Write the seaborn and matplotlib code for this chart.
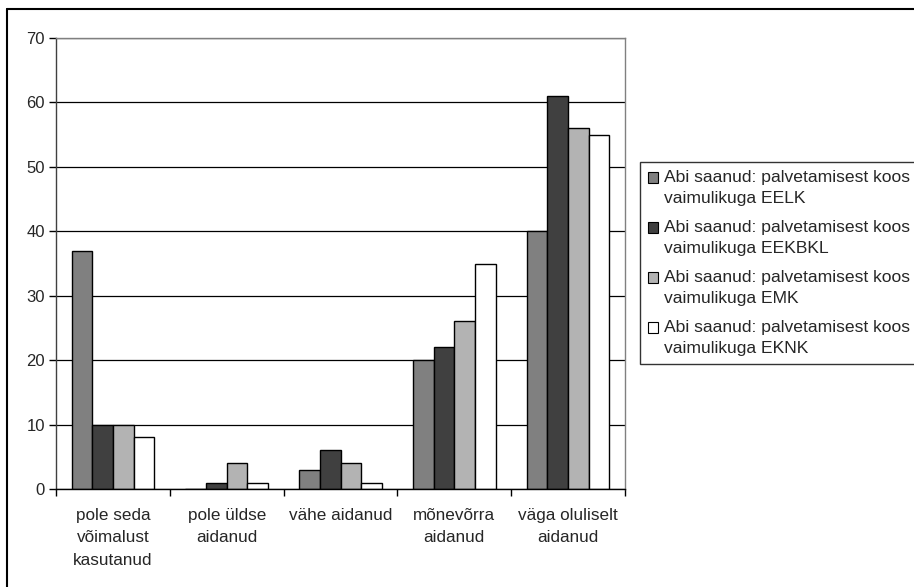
import numpy as np
import pandas as pd
import seaborn as sns
import matplotlib.pyplot as plt
from matplotlib.lines import Line2D
from matplotlib.patches import Rectangle
from matplotlib.legend_handler import HandlerPatch

# Andmed (loetud jooniselt)
kategooriad = ['pole seda\nvõimalust\nkasutanud', 'pole üldse\naidanud', 'vähe aidanud',
               'mõnevõrra\naidanud', 'väga oluliselt\naidanud']
grupid = ['Abi saanud: palvetamisest koos\nvaimulikuga EELK',
          'Abi saanud: palvetamisest koos\nvaimulikuga EEKBKL',
          'Abi saanud: palvetamisest koos\nvaimulikuga EMK',
          'Abi saanud: palvetamisest koos\nvaimulikuga EKNK']
eelk = [37, 0, 3, 20, 40]
eekbkl = [10, 1, 6, 22, 61]
emk = [10, 4, 4, 26, 56]
eknk = [8, 1, 1, 35, 55]
varvid = ['#808080', '#404040', '#b3b3b3', '#ffffff']

rows = []
for g, vals in zip(grupid, [eelk, eekbkl, emk, eknk]):
    for k, v in zip(kategooriad, vals):
        rows.append({'kategooria': k, 'grupp': g, 'vaartus': v})
df = pd.DataFrame(rows)

sns.set_style("white")
plt.rcParams['font.family'] = ['Liberation Sans', 'DejaVu Sans']

W, H = 914, 587
fig = plt.figure(figsize=(W / 100, H / 100), dpi=100)
ax = fig.add_axes([56 / W, 1 - 489 / H, (625 - 56) / W, (489 - 38) / H])

sns.barplot(data=df, x='kategooria', y='vaartus', hue='grupp', palette=varvid,
            width=4 / 5.5, edgecolor='black', linewidth=1, saturation=1, ax=ax)

handles, labels = ax.get_legend_handles_labels()
ax.get_legend().remove()

ax.set_ylim(0, 70)
ax.set_xlim(-0.5, 4.5)
ax.set_yticks(range(0, 71, 10))
ax.yaxis.grid(True, color='black', linewidth=0.9)
ax.set_axisbelow(True)
ax.set_xlabel('')
ax.set_ylabel('')

# kategooriate piirid on jaotised, nimed kirjutatakse eraldi
ax.set_xticks(np.arange(-0.5, 5, 1))
ax.set_xticklabels([''] * 6)
ax.tick_params(axis='x', direction='out', length=5, width=1, color='black', bottom=True)
ax.tick_params(axis='y', direction='out', length=5, width=1, color='black', left=True, labelsize=12, pad=3)
for i, k in enumerate(kategooriad):
    ax.annotate(k, xy=(i, 0), xycoords=('data', 'axes fraction'), xytext=(0, -13.5),
                textcoords='offset points', ha='center', va='top', fontsize=12.3,
                linespacing=1.62)

for s in ['top', 'right']:
    ax.spines[s].set_color('#808080')
    ax.spines[s].set_linewidth(1)
ax.spines['left'].set_color('#404040')
ax.spines['bottom'].set_color('black')
ax.spines['left'].set_linewidth(1)
ax.spines['bottom'].set_linewidth(1)


# legendi ruuduke esimese rea kõrgusel
def ruut(legend, orig_handle, xdescent, ydescent, width, height, fontsize):
    s = 0.6 * fontsize
    return Rectangle((-xdescent, height - s - 0.05 * fontsize), s, s)


leg = fig.legend(handles, labels, loc='upper left', bbox_to_anchor=(640 / W, 1 - 162 / H),
                 borderaxespad=0, fontsize=12.6, frameon=True, fancybox=False,
                 edgecolor='black', handlelength=0.6, handleheight=1.6,
                 handletextpad=0.3, labelspacing=0.8, borderpad=0.45,
                 handler_map={h: HandlerPatch(patch_func=ruut) for h in handles})
leg.get_frame().set_linewidth(1)
for t in leg.get_texts():
    t.set_linespacing(1.5)
for h in leg.legend_handles:
    h.set_edgecolor('black')
    h.set_linewidth(0.8)

# välimine raam (parem ja alumine serv jäävad pildist välja)
fig.add_artist(Line2D([7 / W, 7 / W], [0, 1 - 9 / H], transform=fig.transFigure, color='black', lw=1.5))
fig.add_artist(Line2D([7 / W, 1], [1 - 9 / H, 1 - 9 / H], transform=fig.transFigure, color='black', lw=1.5))

fig.savefig('out.png', dpi=100)
